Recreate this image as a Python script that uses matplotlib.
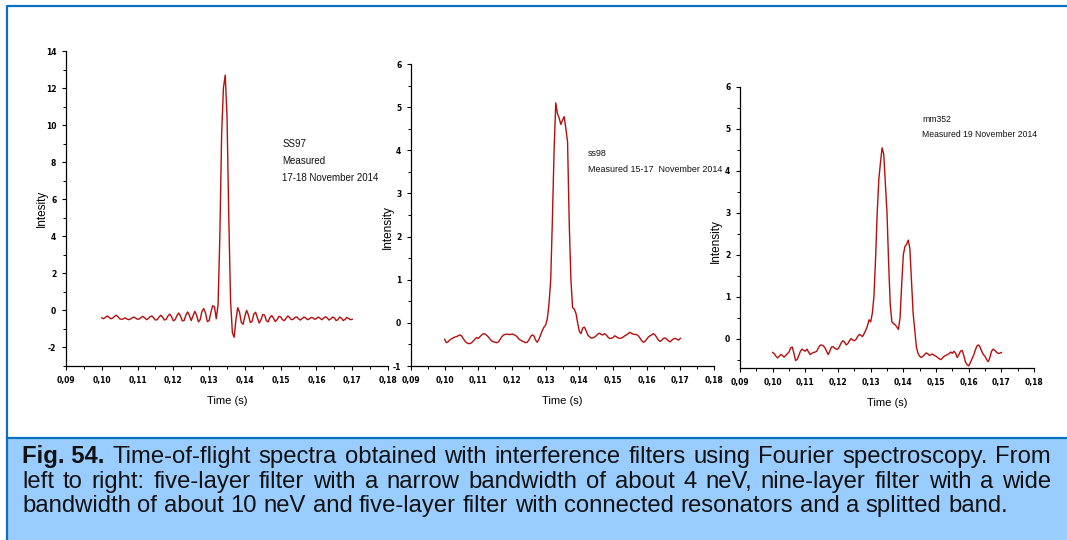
import matplotlib
matplotlib.use("Agg")
import matplotlib.pyplot as plt
import numpy as np
from matplotlib.ticker import MultipleLocator, FuncFormatter

# time grid (s), one sample every 0.5 ms from 0.100 to 0.170
time = np.round(np.arange(0.100, 0.17001, 0.0005), 4)

# SS97, measured 17-18 November 2014
ss97 = [
    -0.40, -0.45, -0.38, -0.30, -0.36, -0.45, -0.42, -0.34, -0.26, -0.33,
    -0.45, -0.48, -0.46, -0.40, -0.46, -0.50, -0.47, -0.40, -0.36, -0.42,
    -0.48, -0.46, -0.38, -0.32, -0.40, -0.50, -0.44, -0.34, -0.30, -0.40,
    -0.52, -0.50, -0.36, -0.26, -0.36, -0.52, -0.48, -0.30, -0.20, -0.34,
    -0.56, -0.50, -0.28, -0.14, -0.30, -0.56, -0.55, -0.26, -0.08, -0.28,
    -0.55, -0.30, -0.05, -0.25, -0.62, -0.50, -0.05, 0.10, -0.15, -0.60,
    -0.55, -0.10, 0.25, 0.20, -0.45, 0.30, 4.0, 9.5, 12.0, 12.7,
    10.5, 5.0, 0.5, -1.2, -1.45, -0.5, 0.15, -0.10, -0.65, -0.75,
    -0.30, 0.00, -0.25, -0.65, -0.60, -0.20, -0.10, -0.40, -0.68, -0.50,
    -0.22, -0.25, -0.55, -0.62, -0.38, -0.28, -0.42, -0.60, -0.50, -0.32,
    -0.35, -0.50, -0.55, -0.42, -0.30, -0.38, -0.50, -0.48, -0.38, -0.35,
    -0.45, -0.52, -0.44, -0.36, -0.40, -0.50, -0.46, -0.38, -0.40, -0.48,
    -0.44, -0.36, -0.42, -0.50, -0.42, -0.34, -0.40, -0.52, -0.46, -0.36,
    -0.40, -0.55, -0.50, -0.36, -0.42, -0.55, -0.48, -0.38, -0.44, -0.50,
    -0.48,
]

# ss98, measured 15-17 November 2014
ss98 = [
    -0.38, -0.46, -0.44, -0.40, -0.37, -0.35, -0.33, -0.32, -0.30, -0.28,
    -0.30, -0.36, -0.42, -0.46, -0.48, -0.48, -0.46, -0.42, -0.38, -0.34,
    -0.36, -0.32, -0.28, -0.25, -0.26, -0.29, -0.33, -0.38, -0.42, -0.44,
    -0.45, -0.46, -0.44, -0.38, -0.32, -0.28, -0.27, -0.26, -0.27, -0.27,
    -0.26, -0.27, -0.29, -0.32, -0.37, -0.40, -0.42, -0.44, -0.46, -0.45,
    -0.40, -0.32, -0.28, -0.30, -0.40, -0.45, -0.38, -0.28, -0.18, -0.10,
    -0.05, 0.10, 0.45, 1.0, 2.4, 4.0, 5.1, 4.85, 4.75, 4.60,
    4.70, 4.78, 4.50, 4.20, 2.30, 1.00, 0.35, 0.32, 0.22, 0.00,
    -0.20, -0.25, -0.12, -0.10, -0.18, -0.28, -0.32, -0.35, -0.35, -0.33,
    -0.30, -0.26, -0.24, -0.27, -0.28, -0.25, -0.28, -0.33, -0.36, -0.36,
    -0.34, -0.30, -0.32, -0.35, -0.36, -0.35, -0.33, -0.30, -0.28, -0.25,
    -0.22, -0.24, -0.26, -0.27, -0.27, -0.30, -0.35, -0.41, -0.45, -0.43,
    -0.38, -0.33, -0.30, -0.28, -0.25, -0.28, -0.34, -0.40, -0.43, -0.40,
    -0.36, -0.35, -0.38, -0.42, -0.44, -0.40, -0.37, -0.36, -0.38, -0.40,
    -0.36,
]

# mm352, measured 19 November 2014
mm352 = [
    -0.33, -0.36, -0.42, -0.46, -0.42, -0.38, -0.40, -0.44, -0.40, -0.36,
    -0.32, -0.22, -0.20, -0.35, -0.52, -0.50, -0.40, -0.30, -0.25, -0.28,
    -0.30, -0.25, -0.32, -0.38, -0.35, -0.33, -0.32, -0.30, -0.22, -0.16,
    -0.15, -0.17, -0.22, -0.30, -0.38, -0.30, -0.20, -0.19, -0.23, -0.25,
    -0.25, -0.18, -0.10, -0.05, -0.08, -0.15, -0.12, -0.05, 0.00, -0.03,
    -0.05, -0.02, 0.05, 0.10, 0.08, 0.05, 0.12, 0.20, 0.30, 0.45,
    0.40, 0.60, 1.0, 1.9, 3.0, 3.8, 4.2, 4.55, 4.4, 3.7,
    3.0, 1.8, 0.8, 0.4, 0.36, 0.33, 0.28, 0.22, 0.5, 1.3,
    2.0, 2.2, 2.25, 2.35, 2.15, 1.4, 0.6, 0.2, -0.2, -0.35,
    -0.42, -0.45, -0.42, -0.38, -0.34, -0.36, -0.40, -0.38, -0.37, -0.40,
    -0.42, -0.45, -0.48, -0.50, -0.46, -0.42, -0.40, -0.38, -0.36, -0.32,
    -0.35, -0.30, -0.35, -0.45, -0.38, -0.30, -0.28, -0.40, -0.55, -0.62,
    -0.65, -0.58, -0.48, -0.40, -0.28, -0.18, -0.15, -0.20, -0.30, -0.38,
    -0.42, -0.50, -0.55, -0.45, -0.30, -0.25, -0.28, -0.32, -0.35, -0.35,
    -0.33,
]

panels = [
    dict(y=ss97, ylabel="Intesity", ylim=(-3, 14), major=2, minor=1,
         notes=["SS97", "Measured", "17-18 November 2014"], note_xy=(0.1505, 9.0),
         note_step=0.92, note_fs=7, ylab_xy=(-0.056, 0.5)),
    dict(y=ss98, ylabel="Intensity", ylim=(-1, 6), major=1, minor=0.5,
         notes=["ss98", "Measured 15-17  November 2014"], note_xy=(0.1425, 3.92),
         note_step=0.36, note_fs=6.4, ylab_xy=(-0.056, 0.46)),
    dict(y=mm352, ylabel="Intensity", ylim=(-0.7, 6), major=1, minor=0.5,
         notes=["mm352", "Measured 19 November 2014"], note_xy=(0.1458, 5.22),
         note_step=0.36, note_fs=6.2, ylab_xy=(-0.061, 0.45)),
]

W, H = 1067, 540
dpi = 100
fig = plt.figure(figsize=(W / dpi, H / dpi), dpi=dpi)
plt.rcParams["font.family"] = ["Liberation Sans", "DejaVu Sans"]

# axes boxes in pixels: left, top, right, bottom
boxes = [(66, 51, 388, 366), (411, 64, 714, 366), (740, 87, 1034, 368)]

line_color = "#b80d0d"
comma = FuncFormatter(lambda v, p: ("%.2f" % v).replace(".", ","))
intfmt = FuncFormatter(lambda v, p: "%d" % round(v))

for p, b in zip(panels, boxes):
    l, t, r, btm = b
    ax = fig.add_axes([l / W, 1 - btm / H, (r - l) / W, (btm - t) / H])
    ax.plot(time, p["y"], color=line_color, lw=1.0)
    ax.set_xlim(0.09, 0.18)
    ax.set_ylim(*p["ylim"])
    ax.xaxis.set_major_locator(MultipleLocator(0.01))
    ax.xaxis.set_minor_locator(MultipleLocator(0.005))
    ax.yaxis.set_major_locator(MultipleLocator(p["major"]))
    ax.yaxis.set_minor_locator(MultipleLocator(p["minor"]))
    ax.xaxis.set_major_formatter(comma)
    ax.yaxis.set_major_formatter(intfmt)
    for s in ["top", "right"]:
        ax.spines[s].set_visible(False)
    for s in ["left", "bottom"]:
        ax.spines[s].set_linewidth(0.9)
    ax.tick_params(which="major", direction="out", length=3, width=0.8,
                   labelsize=5.5, pad=4)
    ax.tick_params(which="minor", direction="out", length=2, width=0.7)
    for lab in ax.get_xticklabels() + ax.get_yticklabels():
        lab.set_fontweight("bold")
        lab.set_family("DejaVu Sans")
    ax.set_xlabel("Time (s)", fontsize=8, labelpad=8)
    ax.set_ylabel(p["ylabel"], fontsize=8.5)
    ax.yaxis.set_label_coords(*p["ylab_xy"])
    ax.patch.set_alpha(0)
    nx, ny = p["note_xy"]
    for k, s in enumerate(p["notes"]):
        ax.text(nx, ny - k * p["note_step"], s, fontsize=p["note_fs"], va="center",
                ha="left", color="#111111")

# blue frame and caption box
blue = "#0a70c0"
cap_top = 438
fig.add_artist(plt.Rectangle((8 / W, 0), 1 - 8 / W, 1 - cap_top / H,
                             facecolor="#99ccff", edgecolor="none",
                             transform=fig.transFigure, zorder=0))
fig.add_artist(plt.Line2D([7 / W, 7 / W, 1.0], [0.0, 1 - 6 / H, 1 - 6 / H],
                          color=blue, lw=1.6, transform=fig.transFigure))
fig.add_artist(plt.Line2D([7 / W, 1.0], [1 - cap_top / H, 1 - cap_top / H],
                          color=blue, lw=1.6, transform=fig.transFigure))

cap_lines = [
    [("Fig. 54.", "bold")] + [(w, "normal") for w in
        "Time-of-flight spectra obtained with interference filters using Fourier spectroscopy. From".split()],
    [(w, "normal") for w in
        "left to right: five-layer filter with a narrow bandwidth of about 4 neV, nine-layer filter with a wide".split()],
    [(w, "normal") for w in
        "bandwidth of about 10 neV and five-layer filter with connected resonators and a splitted band.".split()],
]
justify = [True, True, False]
baselines = [463, 488, 512]
x_left, x_right = 22, 1051

renderer = fig.canvas.get_renderer()


def width_of(s, weight, fs):
    tt = fig.text(0, 0, s, fontsize=fs, fontweight=weight)
    w = tt.get_window_extent(renderer).width
    tt.remove()
    return w


# size the caption so that the last (ragged) line ends near x = 1010
probe = " ".join(w for w, _ in cap_lines[2])
fs = 10 * (1010 - x_left) / width_of(probe, "normal", 10)
space = width_of("a a", "normal", fs) - width_of("aa", "normal", fs)

for words, just, yb in zip(cap_lines, justify, baselines):
    widths = [width_of(w, wt, fs) for w, wt in words]
    if just:
        gap = (x_right - x_left - sum(widths)) / (len(words) - 1)
    else:
        gap = space
    x = x_left
    for (w, wt), ww in zip(words, widths):
        fig.text(x / W, 1 - yb / H, w, fontsize=fs, fontweight=wt,
                 va="baseline", ha="left", color="#111111")
        x += ww + gap

fig.savefig("out.png", dpi=dpi)
